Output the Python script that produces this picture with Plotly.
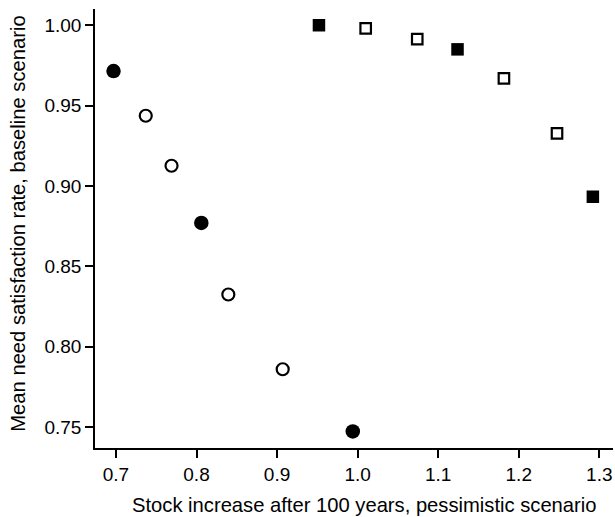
import plotly.graph_objects as go

# Data
filled_circle_x = [0.697, 0.806, 0.994]
filled_circle_y = [0.9715, 0.877, 0.7473]
open_circle_x = [0.737, 0.769, 0.8395, 0.907]
open_circle_y = [0.9437, 0.9126, 0.8325, 0.786]
filled_square_x = [0.952, 1.124, 1.292]
filled_square_y = [1.000, 0.985, 0.8933]
open_square_x = [1.010, 1.074, 1.1816, 1.2475]
open_square_y = [0.998, 0.9913, 0.967, 0.9327]

x_ticks = [0.7, 0.8, 0.9, 1.0, 1.1, 1.2, 1.3]
x_tick_labels = ["0.7", "0.8", "0.9", "1.0", "1.1", "1.2", "1.3"]
y_ticks = [0.75, 0.80, 0.85, 0.90, 0.95, 1.00]
y_tick_labels = ["0.75", "0.80", "0.85", "0.90", "0.95", "1.00"]

x_title = "Stock increase after 100 years, pessimistic scenario"
y_title = "Mean need satisfaction rate, baseline scenario"

FONT = "Liberation Sans, Arial, Helvetica, sans-serif"

fig = go.Figure()
fig.add_trace(go.Scatter(x=filled_circle_x, y=filled_circle_y, mode="markers",
                         marker=dict(symbol="circle", size=14.5, color="black",
                                     line=dict(width=0))))
fig.add_trace(go.Scatter(x=open_circle_x, y=open_circle_y, mode="markers",
                         marker=dict(symbol="circle-open", size=12, color="black",
                                     line=dict(width=2.2, color="black"))))
fig.add_trace(go.Scatter(x=filled_square_x, y=filled_square_y, mode="markers",
                         marker=dict(symbol="square", size=12.5, color="black",
                                     line=dict(width=0))))
fig.add_trace(go.Scatter(x=open_square_x, y=open_square_y, mode="markers",
                         marker=dict(symbol="square-open", size=10.5, color="black",
                                     line=dict(width=2.2, color="black"))))

fig.update_layout(
    width=615, height=517,
    margin=dict(l=95, r=2, t=9, b=69),
    paper_bgcolor="white", plot_bgcolor="white",
    showlegend=False,
    font=dict(family=FONT, color="black", size=19),
    annotations=[
        dict(text=x_title, xref="paper", yref="paper", x=0.521, y=-0.1298,
             xanchor="center", yanchor="middle", showarrow=False,
             font=dict(size=20.2)),
        dict(text=y_title, xref="paper", yref="paper", x=-0.1486, y=0.511,
             xanchor="center", yanchor="middle", showarrow=False, textangle=-90,
             font=dict(size=20.2)),
    ],
)
fig.update_xaxes(
    range=[0.674, 1.317], tickvals=x_ticks, ticktext=x_tick_labels,
    showgrid=False, zeroline=False, showline=True, linecolor="black", linewidth=1.5,
    ticks="outside", ticklen=8, tickwidth=1.5, tickcolor="black",
    tickfont=dict(size=19), automargin=False,
)
fig.update_yaxes(
    range=[0.737, 1.0101], tickvals=y_ticks, ticktext=y_tick_labels,
    showgrid=False, zeroline=False, showline=True, linecolor="black", linewidth=1.5,
    ticks="outside", ticklen=8, tickwidth=1.5, tickcolor="black",
    tickfont=dict(size=19), automargin=False,
)

fig.write_html("out.html", config={"displayModeBar": False},
               post_script="document.body.style.margin='0';document.body.style.overflow='hidden';")
